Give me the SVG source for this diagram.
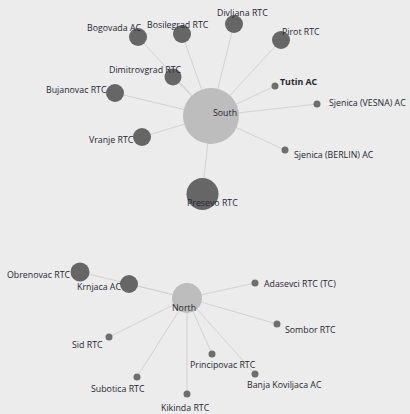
<svg xmlns="http://www.w3.org/2000/svg" width="410" height="414" viewBox="0 0 410 414">
<style>
.bg{fill:#ececec}
.edge{stroke:#d2d2d2;stroke-width:1;fill:none}
.hub{fill:#bdbdbd}
.big{fill:#666666}
.dot{fill:#6e6e6e}
text{font-family:"Open Sans","DejaVu Sans",sans-serif;font-size:8.8px;fill:#26262f}
.b{font-weight:bold}
</style>
<rect class="bg" width="410" height="414"/>
<g id="connectors">
<line class="edge" x1="211" y1="116" x2="138" y2="37"/>
<line class="edge" x1="211" y1="116" x2="182" y2="34"/>
<line class="edge" x1="211" y1="116" x2="173" y2="77"/>
<line class="edge" x1="211" y1="116" x2="115" y2="93"/>
<line class="edge" x1="211" y1="116" x2="142" y2="137"/>
<line class="edge" x1="211" y1="116" x2="202" y2="194"/>
<line class="edge" x1="211" y1="116" x2="234" y2="24"/>
<line class="edge" x1="211" y1="116" x2="281" y2="40"/>
<line class="edge" x1="211" y1="116" x2="275" y2="86"/>
<line class="edge" x1="211" y1="116" x2="317" y2="104"/>
<line class="edge" x1="211" y1="116" x2="285" y2="150"/>
<line class="edge" x1="187" y1="298" x2="80" y2="272"/>
<line class="edge" x1="187" y1="298" x2="129" y2="284"/>
<line class="edge" x1="187" y1="298" x2="109" y2="337"/>
<line class="edge" x1="187" y1="298" x2="137" y2="377"/>
<line class="edge" x1="187" y1="298" x2="187" y2="394"/>
<line class="edge" x1="187" y1="298" x2="212" y2="354"/>
<line class="edge" x1="187" y1="298" x2="255" y2="374"/>
<line class="edge" x1="187" y1="298" x2="277" y2="324"/>
<line class="edge" x1="187" y1="298" x2="255" y2="283"/>
</g>
<g id="south"><circle class="hub" cx="211" cy="116" r="28"/><text x="213" y="116">South</text></g>
<g id="bogovada"><circle class="big" cx="138" cy="37" r="9"/><text x="87" y="31">Bogovada AC</text></g>
<g id="bosilegrad"><circle class="big" cx="182" cy="34" r="9"/><text x="147" y="28">Bosilegrad RTC</text></g>
<g id="dimitrovgrad"><circle class="big" cx="173" cy="77" r="8.5"/><text x="109" y="73">Dimitrovgrad RTC</text></g>
<g id="bujanovac"><circle class="big" cx="115" cy="93" r="9"/><text x="46" y="93">Bujanovac RTC</text></g>
<g id="vranje"><circle class="big" cx="142" cy="137" r="9"/><text x="89" y="143">Vranje RTC</text></g>
<g id="presevo"><circle class="big" cx="202.5" cy="194" r="16"/><text x="187" y="206">Presevo RTC</text></g>
<g id="divljana"><circle class="big" cx="234" cy="24" r="9"/><text x="217" y="16">Divljana RTC</text></g>
<g id="pirot"><circle class="big" cx="281" cy="40" r="9"/><text x="282" y="35">Pirot RTC</text></g>
<g id="tutin"><circle class="dot" cx="275" cy="86" r="3.5"/><text class="b" x="280" y="85">Tutin AC</text></g>
<g id="sjenica-vesna"><circle class="dot" cx="317" cy="104" r="3.5"/><text x="329" y="106">Sjenica (VESNA) AC</text></g>
<g id="sjenica-berlin"><circle class="dot" cx="285" cy="150" r="3.5"/><text x="294" y="158">Sjenica (BERLIN) AC</text></g>
<g id="north"><circle class="hub" cx="187" cy="298" r="15"/><text x="172" y="311">North</text></g>
<g id="obrenovac"><circle class="big" cx="80" cy="272" r="9.5"/><text x="7" y="278">Obrenovac RTC</text></g>
<g id="krnjaca"><circle class="big" cx="129" cy="284" r="9"/><text x="77" y="290">Krnjaca AC</text></g>
<g id="sid"><circle class="dot" cx="109" cy="337" r="3.5"/><text x="72" y="348">Sid RTC</text></g>
<g id="subotica"><circle class="dot" cx="137" cy="377" r="3.5"/><text x="91" y="392">Subotica RTC</text></g>
<g id="kikinda"><circle class="dot" cx="187" cy="394" r="3.5"/><text x="161" y="411">Kikinda RTC</text></g>
<g id="principovac"><circle class="dot" cx="212" cy="354" r="3.5"/><text x="190" y="368">Principovac RTC</text></g>
<g id="banja"><circle class="dot" cx="255" cy="374" r="3.5"/><text x="247" y="388">Banja Koviljaca AC</text></g>
<g id="sombor"><circle class="dot" cx="277" cy="324" r="3.5"/><text x="285" y="333">Sombor RTC</text></g>
<g id="adasevci"><circle class="dot" cx="255" cy="283" r="3.5"/><text x="264" y="287">Adasevci RTC (TC)</text></g>
</svg>
